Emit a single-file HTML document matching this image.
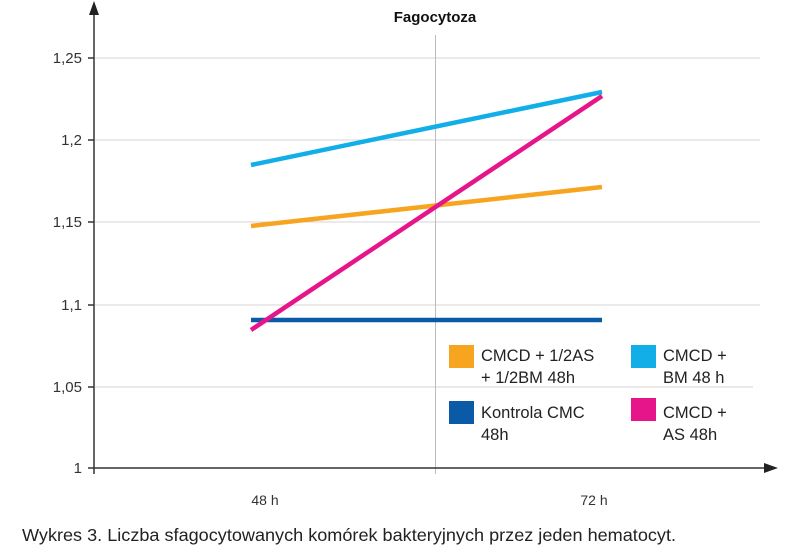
<!DOCTYPE html>
<html><head><style>body{margin:0;background:#fff}svg{display:block}text{font-family:"Liberation Sans",sans-serif}</style></head>
<body>
<svg width="800" height="552" viewBox="0 0 800 552">
<g stroke="#d6d6d6" stroke-width="1">
<line x1="95" y1="58" x2="760" y2="58"/><line x1="95" y1="140" x2="760" y2="140"/>
<line x1="95" y1="222" x2="760" y2="222"/><line x1="95" y1="305" x2="760" y2="305"/>
<line x1="95" y1="387" x2="753" y2="387"/>
</g>
<line x1="435.5" y1="35" x2="435.5" y2="474" stroke="#bdbdbd" stroke-width="1"/>
<g stroke="#333" stroke-width="1.5">
<line x1="94" y1="12" x2="94" y2="474"/>
<line x1="88" y1="468" x2="770" y2="468"/>
<line x1="88" y1="58" x2="94" y2="58"/><line x1="88" y1="140" x2="94" y2="140"/>
<line x1="88" y1="222" x2="94" y2="222"/><line x1="88" y1="305" x2="94" y2="305"/>
<line x1="88" y1="387" x2="94" y2="387"/>
</g>
<polygon points="94,1 89,15 99,15" fill="#222"/>
<polygon points="778,468 764,463 764,473" fill="#222"/>
<g font-size="15" fill="#333" text-anchor="end">
<text x="82" y="63">1,25</text><text x="82" y="145">1,2</text><text x="82" y="227">1,15</text>
<text x="82" y="310">1,1</text><text x="82" y="392">1,05</text><text x="82" y="473">1</text>
</g>
<g font-size="14" fill="#333" text-anchor="middle">
<text x="265" y="505">48 h</text><text x="594" y="505">72 h</text>
</g>
<text x="435" y="22" font-size="15" font-weight="bold" text-anchor="middle" fill="#111">Fagocytoza</text>
<g stroke-width="4.5" stroke-linecap="butt">
<line x1="251" y1="165" x2="602" y2="92" stroke="#12aee8"/>
<line x1="251" y1="226" x2="602" y2="187" stroke="#f7a520"/>
<line x1="251" y1="320" x2="602" y2="320" stroke="#0a5aa8"/>
<line x1="251" y1="330" x2="602" y2="96" stroke="#e6168a"/>
</g>
<rect x="449" y="345" width="25" height="23" fill="#f7a520"/>
<rect x="449" y="401" width="25" height="23" fill="#0a5aa8"/>
<rect x="631" y="345" width="25" height="23" fill="#12aee8"/>
<rect x="631" y="398" width="25" height="23" fill="#e6168a"/>
<g font-size="16.5" fill="#222">
<text x="481" y="361">CMCD + 1/2AS</text><text x="481" y="383">+ 1/2BM 48h</text>
<text x="481" y="418">Kontrola CMC</text><text x="481" y="440">48h</text>
<text x="663" y="361">CMCD +</text><text x="663" y="383">BM 48 h</text>
<text x="663" y="418">CMCD +</text><text x="663" y="440">AS 48h</text>
</g>
<text x="22" y="541" font-size="17.5" fill="#222" textLength="654" lengthAdjust="spacingAndGlyphs">Wykres 3. Liczba sfagocytowanych komórek bakteryjnych przez jeden hematocyt.</text>
</svg>
</body></html>
